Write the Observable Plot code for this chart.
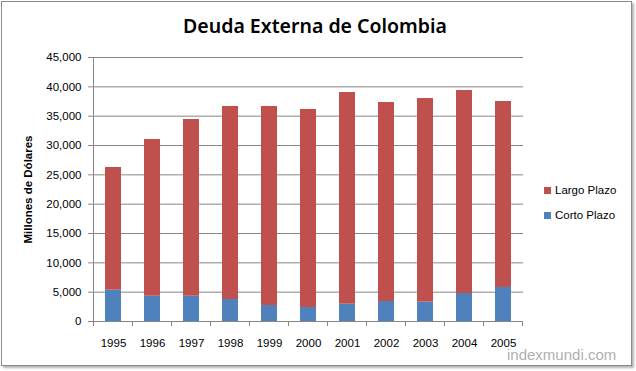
<!DOCTYPE html>
<html>
<head>
<meta charset="utf-8">
<script src="https://cdn.jsdelivr.net/npm/d3@7"></script>
<script src="https://cdn.jsdelivr.net/npm/@observablehq/plot@0.6"></script>
<style>
  html, body { margin: 0; padding: 0; background: #fff; }
  #wrap { position: relative; width: 636px; height: 371px; overflow: hidden; font-family: "Liberation Sans", Arial, sans-serif; }
  #frame { position: absolute; left: 1px; top: 1px; width: 629px; height: 363px; border: 1px solid #8a8a8a; box-shadow: 2px 2px 2px #b5b5b5; background: #fff; }
  #chart { position: absolute; left: 0; top: 0; }
  #title { position: absolute; left: 0; width: 630px; top: 12px; text-align: center; font-family: "Noto Sans", sans-serif; font-weight: 600; font-size: 19.5px; color: #000; }
  .leg { position: absolute; left: 544px; font-size: 11.5px; color: #000; display: flex; align-items: center; }
  .leg span.sw { display: inline-block; width: 7px; height: 7px; margin-right: 4px; }
  #wm { position: absolute; left: 507px; top: 346px; font-size: 15px; color: #b0b0b0; font-family: "Liberation Sans", Arial, sans-serif; }
</style>
</head>
<body>
<div id="wrap">
  <div id="frame"></div>
  <div id="chart"></div>
  <div id="title"></div>
  <div id="legend"></div>
  <div id="wm"></div>
</div>
<script>
const title = "Deuda Externa de Colombia";
const yLabel = "Millones de Dólares";
const watermark = "indexmundi.com";
const years = ["1995","1996","1997","1998","1999","2000","2001","2002","2003","2004","2005"];
const corto = [5340, 4310, 4310, 3750, 2730, 2390, 2950, 3410, 3300, 4770, 5800];
const total = [26250, 31020, 34430, 36650, 36650, 36140, 39030, 37330, 38010, 39370, 37500];
const largo = total.map((t, i) => t - corto[i]);
const seriesNames = ["Largo Plazo", "Corto Plazo"];
const seriesColors = ["#C0504D", "#4F81BD"];
const yTicks = [0, 5000, 10000, 15000, 20000, 25000, 30000, 35000, 40000, 45000];

const data = [];
years.forEach((y, i) => {
  data.push({year: y, serie: "Corto Plazo", value: corto[i]});
  data.push({year: y, serie: "Largo Plazo", value: largo[i]});
});

const pInner = 0.6;

// tick marks at band boundaries on the x axis, computed from the band scale
function xBoundaryTicks(index, scales, values, dims) {
  const x = scales.x;
  const step = x(years[1]) - x(years[0]);
  const bw = step * (1 - pInner);
  const g = d3.create("svg:g").attr("stroke", "#868686").attr("shape-rendering", "crispEdges");
  const y0 = dims.height - dims.marginBottom;
  const xs = years.map(d => x(d) - (step - bw) / 2);
  xs.push(x(years[years.length - 1]) + bw + (step - bw) / 2);
  xs.forEach(px => {
    g.append("line").attr("x1", Math.round(px) + 0.5).attr("x2", Math.round(px) + 0.5)
      .attr("y1", y0).attr("y2", y0 + 5);
  });
  return g.node();
}

const chart = Plot.plot({
  width: 636,
  height: 371,
  marginLeft: 93,
  marginRight: 113,
  marginTop: 57,
  marginBottom: 50,
  style: {fontFamily: "'Liberation Sans', Arial, sans-serif", fontSize: "11.5px", color: "#000", background: "transparent"},
  x: {domain: years, paddingInner: pInner, paddingOuter: pInner / 2, label: null},
  y: {domain: [0, 45000], label: null},
  color: {domain: seriesNames, range: seriesColors},
  marks: [
    Plot.gridY(yTicks, {stroke: "#868686", strokeOpacity: 1}),
    Plot.barY(data, {x: "year", y: "value", fill: "serie", order: ["Corto Plazo", "Largo Plazo"]}),
    Plot.axisY(yTicks, {tickSize: 5, tickPadding: 7, stroke: "#868686", tickFormat: d3.format(","), fill: "#000", label: null}),
    Plot.axisX({tickSize: 0, tickPadding: 17, fill: "#000", label: null}),
    Plot.frame({anchor: "left", stroke: "#868686"}),
    Plot.ruleY([0], {stroke: "#868686"}),
    xBoundaryTicks,
    Plot.text([yLabel], {frameAnchor: "left", textAnchor: "middle", rotate: -90, dx: -65, fontWeight: "bold", fontSize: 11.5, fill: "#000"})
  ]
});
document.getElementById("chart").appendChild(chart);
document.getElementById("title").textContent = title;
document.getElementById("wm").textContent = watermark;

const legend = document.getElementById("legend");
const legTops = [184, 209];
seriesNames.forEach((n, i) => {
  const d = document.createElement("div");
  d.className = "leg";
  d.style.top = legTops[i] + "px";
  d.innerHTML = `<span class="sw" style="background:${seriesColors[i]}"></span><span>${n}</span>`;
  legend.appendChild(d);
});
</script>
</body>
</html>
